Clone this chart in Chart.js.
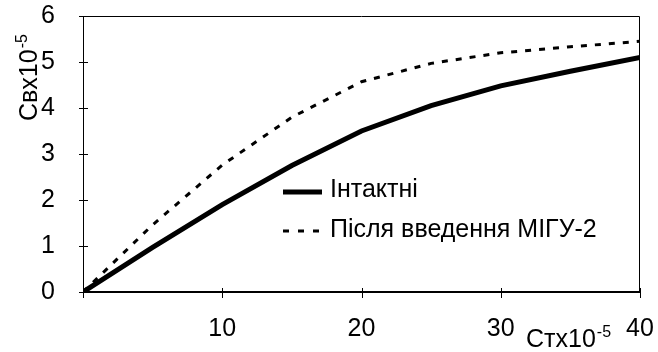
<!DOCTYPE html>
<html>
<head>
<meta charset="utf-8">
<script src="https://cdn.jsdelivr.net/npm/chart.js@4.4.1/dist/chart.umd.min.js"></script>
<style>
    body { margin: 0; background: #fff; }
    #wrap { width: 658px; height: 352px; }
</style>
</head>
<body>
<div id="wrap"><canvas id="chart" width="658" height="352"></canvas></div>
<script>
// values (x in Ст x10^-5, y in Св x10^-5)
const ctValues = [0, 5, 10, 15, 20, 25, 30, 35, 40];
const intact = [0, 0.97, 1.9, 2.75, 3.5, 4.05, 4.48, 4.8, 5.1];
const afterMigu = [0, 1.46, 2.76, 3.8, 4.57, 4.97, 5.2, 5.33, 5.45];
const yTicks = [0, 1, 2, 3, 4, 5, 6];
const xTicks = [10, 20, 30, 40];
const seriesNames = ['Інтактні', 'Після введення МІГУ-2'];

const FONT = "'Liberation Sans', Arial, sans-serif";
const fontSize = 25;

const toPoints = (ys) => ctValues.map((x, i) => ({ x: x, y: ys[i] }));

// text with a raised "-5"
function drawPowerText(ctx, base, power, x, y) {
    ctx.font = fontSize + 'px ' + FONT;
    ctx.textBaseline = 'alphabetic';
    ctx.textAlign = 'left';
    ctx.fillText(base, x, y);
    const w = ctx.measureText(base).width;
    ctx.font = Math.round(fontSize * 0.62) + 'px ' + FONT;
    ctx.fillText(power, x + w + 1, y - 10);
}

const framePlugin = {
    id: 'frame',
    afterDraw(chart) {
        const ctx = chart.ctx;
        const a = chart.chartArea;
        const xs = chart.scales.x;
        const ys = chart.scales.y;
        ctx.save();
        ctx.strokeStyle = '#000';

        // box round the plot
        ctx.lineWidth = 1;
        ctx.beginPath();
        ctx.moveTo(a.left + 0.5, a.bottom);
        ctx.lineTo(a.left + 0.5, a.top + 0.5);
        ctx.lineTo(a.right - 0.5, a.top + 0.5);
        ctx.lineTo(a.right - 0.5, a.bottom);
        ctx.stroke();
        ctx.lineWidth = 2;
        ctx.beginPath();
        ctx.moveTo(a.left, a.bottom);
        ctx.lineTo(a.right, a.bottom);
        ctx.stroke();

        // tick marks crossing the axes
        ctx.lineWidth = 1;
        ctx.beginPath();
        yTicks.forEach(v => {
            const py = Math.round(ys.getPixelForValue(v)) + 0.5;
            ctx.moveTo(a.left - 4, py);
            ctx.lineTo(a.left + 5, py);
        });
        [0].concat(xTicks).forEach(v => {
            const px = Math.round(xs.getPixelForValue(v)) + 0.5;
            ctx.moveTo(px, a.bottom - 4);
            ctx.lineTo(px, a.bottom + 6);
        });
        ctx.stroke();

        // legend inside the plot
        ctx.lineWidth = 5;
        ctx.beginPath();
        ctx.moveTo(283, 192);
        ctx.lineTo(322, 192);
        ctx.stroke();
        ctx.lineWidth = 3;
        ctx.setLineDash([6, 9]);
        ctx.beginPath();
        ctx.moveTo(283, 231);
        ctx.lineTo(323, 231);
        ctx.stroke();
        ctx.setLineDash([]);
        ctx.fillStyle = '#000';
        ctx.font = fontSize + 'px ' + FONT;
        ctx.textAlign = 'left';
        ctx.textBaseline = 'middle';
        ctx.fillText(seriesNames[0], 330, 190);
        ctx.fillText(seriesNames[1], 330, 230);

        // axis titles
        drawPowerText(ctx, 'Стх10', '-5', 526, 347);
        ctx.translate(37, 121);
        ctx.rotate(-Math.PI / 2);
        drawPowerText(ctx, 'Свх10', '-5', 0, 0);
        ctx.restore();
    }
};

const ctx = document.getElementById('chart').getContext('2d');
const chart = new Chart(ctx, {
    type: 'line',
    data: {
        datasets: [{
            label: seriesNames[0],
            data: toPoints(intact),
            borderColor: '#000',
            borderWidth: 5,
            pointRadius: 0,
            tension: 0,
            fill: false
        }, {
            label: seriesNames[1],
            data: toPoints(afterMigu),
            borderColor: '#000',
            borderWidth: 3,
            borderDash: [6, 8],
            pointRadius: 0,
            tension: 0,
            fill: false
        }]
    },
    options: {
        responsive: false,
        animation: false,
        layout: { padding: { top: 16, right: 18, left: 0, bottom: 0 } },
        plugins: {
            legend: { display: false },
            tooltip: { enabled: false }
        },
        scales: {
            x: {
                type: 'linear',
                min: 0,
                max: 40,
                grid: { display: false },
                border: { display: false },
                afterBuildTicks: (scale) => {
                    scale.ticks = [0].concat(xTicks).map(v => ({ value: v }));
                },
                afterFit: (scale) => {
                    scale.height = 60;
                    scale.paddingLeft = 0;
                    scale.paddingRight = 0;
                },
                ticks: {
                    padding: 14,
                    color: '#000',
                    font: { family: FONT, size: fontSize },
                    maxRotation: 0,
                    callback: (v) => v === 0 ? '' : v
                }
            },
            y: {
                min: 0,
                max: 6,
                grid: { display: false },
                border: { display: false },
                afterBuildTicks: (scale) => {
                    scale.ticks = yTicks.map(v => ({ value: v }));
                },
                afterFit: (scale) => {
                    scale.width = 83;
                    scale.paddingTop = 0;
                    scale.paddingBottom = 0;
                },
                ticks: {
                    padding: 20,
                    color: '#000',
                    font: { family: FONT, size: fontSize }
                }
            }
        }
    },
    plugins: [framePlugin]
});
</script>
</body>
</html>
